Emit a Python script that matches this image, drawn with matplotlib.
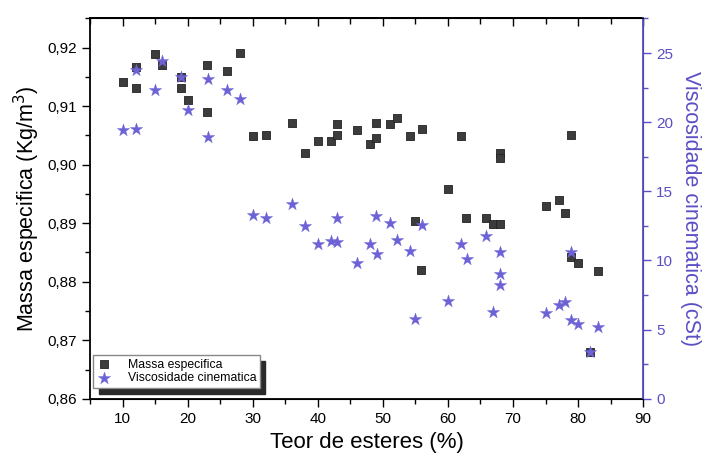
import matplotlib
matplotlib.use("Agg")
import matplotlib.pyplot as plt
from matplotlib.ticker import MultipleLocator, FuncFormatter

plt.rcParams['font.family'] = ['Liberation Sans', 'DejaVu Sans']

# --- data ---
# Massa especifica (left axis)
x_massa = [10.1, 12.1, 12.1, 15.0, 16.1, 19.0, 19.0, 20.1, 22.9, 23.0,
           26.0, 28.0, 30.1, 32.1, 36.1, 38.0, 40.1, 42.0, 43.0, 43.0,
           46.0, 48.0, 49.0, 49.0, 51.1, 52.1, 54.1, 56.0, 60.0, 62.0,
           68.0, 68.0, 78.9, 55.0, 55.9, 62.8, 65.9, 67.0, 68.0, 75.0,
           77.1, 78.0, 78.9, 80.0, 83.0, 81.9]
y_massa = [0.9141, 0.9167, 0.9131, 0.9190, 0.9170, 0.9150, 0.9131, 0.9110, 0.9171, 0.9090,
           0.9161, 0.9191, 0.9049, 0.9050, 0.9071, 0.9020, 0.9040, 0.9040, 0.9070, 0.9050,
           0.9059, 0.9036, 0.9071, 0.9046, 0.9070, 0.9080, 0.9049, 0.9061, 0.8959, 0.9049,
           0.9020, 0.9011, 0.9050, 0.8904, 0.8820, 0.8909, 0.8909, 0.8899, 0.8899, 0.8929,
           0.8939, 0.8918, 0.8843, 0.8832, 0.8818, 0.8680]

# Viscosidade cinematica (right axis)
x_visc = [10.1, 12.1, 12.1, 15.0, 16.1, 19.0, 20.1, 23.1, 23.1, 26.1,
          28.0, 30.0, 32.1, 36.1, 38.0, 40.0, 42.0, 43.0, 43.0, 46.0,
          48.0, 49.0, 49.1, 51.1, 52.1, 54.1, 55.0, 56.0, 60.0, 62.0,
          63.0, 65.9, 67.0, 68.0, 68.0, 68.0, 75.0, 77.0, 78.0, 78.9,
          78.9, 80.0, 83.0, 81.9]
y_visc = [19.4, 19.5, 23.8, 22.3, 24.4, 23.3, 20.9, 18.9, 23.1, 22.3,
          21.7, 13.3, 13.1, 14.1, 12.5, 11.2, 11.4, 11.3, 13.1, 9.8,
          11.2, 13.2, 10.5, 12.7, 11.5, 10.7, 5.8, 12.6, 7.1, 11.2,
          10.1, 11.8, 6.3, 10.6, 9.0, 8.2, 6.2, 6.8, 7.0, 10.6,
          5.7, 5.4, 5.2, 3.4]

blue = '#5a4fc4'
star_col = '#6c62d6'
sq_col = '#3c3c3c'

fig = plt.figure(figsize=(7.11, 4.61), dpi=100)
ax = fig.add_axes([0.1266, 0.135, 0.778, 0.825])
ax2 = ax.twinx()

h1 = ax.scatter(x_massa, y_massa, marker='s', s=38, color=sq_col,
                edgecolors='#222222', linewidths=0.6, label='Massa especifica')
h2 = ax2.scatter(x_visc, y_visc, marker='*', s=85, color=star_col,
                 edgecolors=star_col, linewidths=0.3, label='Viscosidade cinematica')

ax.set_xlim(5, 90)
ax.set_ylim(0.86, 0.925)
ax2.set_ylim(0, 27.5)

comma = FuncFormatter(lambda v, p: f"{v:.2f}".replace('.', ','))
ax.xaxis.set_major_locator(MultipleLocator(10))
ax.xaxis.set_minor_locator(MultipleLocator(5))
ax.yaxis.set_major_locator(MultipleLocator(0.01))
ax.yaxis.set_minor_locator(MultipleLocator(0.005))
ax.yaxis.set_major_formatter(comma)
ax2.yaxis.set_major_locator(MultipleLocator(5))
ax2.yaxis.set_minor_locator(MultipleLocator(2.5))

ax.tick_params(axis='both', which='major', direction='out', length=6, width=1.0, labelsize=11)
ax.tick_params(axis='both', which='minor', direction='out', length=3.5, width=1.0)
ax2.tick_params(axis='y', which='major', direction='out', length=6, width=1.0,
                labelsize=11, colors=blue)
ax2.tick_params(axis='y', which='minor', direction='out', length=3.5, width=1.0, colors=blue)

# top ticks point inward in the original
sec = ax.secondary_xaxis('top')
sec.xaxis.set_major_locator(MultipleLocator(10))
sec.xaxis.set_minor_locator(MultipleLocator(5))
sec.tick_params(which='major', direction='in', length=6, width=1.0, labeltop=False)
sec.tick_params(which='minor', direction='in', length=4, width=1.0)
sec.spines['top'].set_linewidth(1.3)
ax.tick_params(axis='x', top=False, which='both')

for sp in ['left', 'bottom', 'top']:
    ax.spines[sp].set_linewidth(1.3)
ax2.spines['right'].set_color(blue)
ax2.spines['right'].set_linewidth(1.3)
ax2.spines['left'].set_visible(False)

ax.set_xlabel('Teor de esteres (%)', fontsize=16, labelpad=4)
ax.set_ylabel('Massa especifica (Kg/m$^3$)', fontsize=15.5, labelpad=4)
ax2.set_ylabel('Viscosidade cinematica (cSt)', fontsize=15.5, color=blue,
               rotation=270, labelpad=20)

leg = ax2.legend([h1, h2], ['Massa especifica', 'Viscosidade cinematica'],
                 loc='lower left', bbox_to_anchor=(0.006, 0.028), fontsize=8.8,
                 frameon=True, fancybox=False, edgecolor='#888888', framealpha=1,
                 shadow={'color': '#2a2a2a', 'alpha': 1, 'ox': 4, 'oy': -4},
                 borderpad=0.3, labelspacing=0.15, handletextpad=1.3,
                 handlelength=1.2, borderaxespad=0)

fig.savefig('out.png', dpi=100)
